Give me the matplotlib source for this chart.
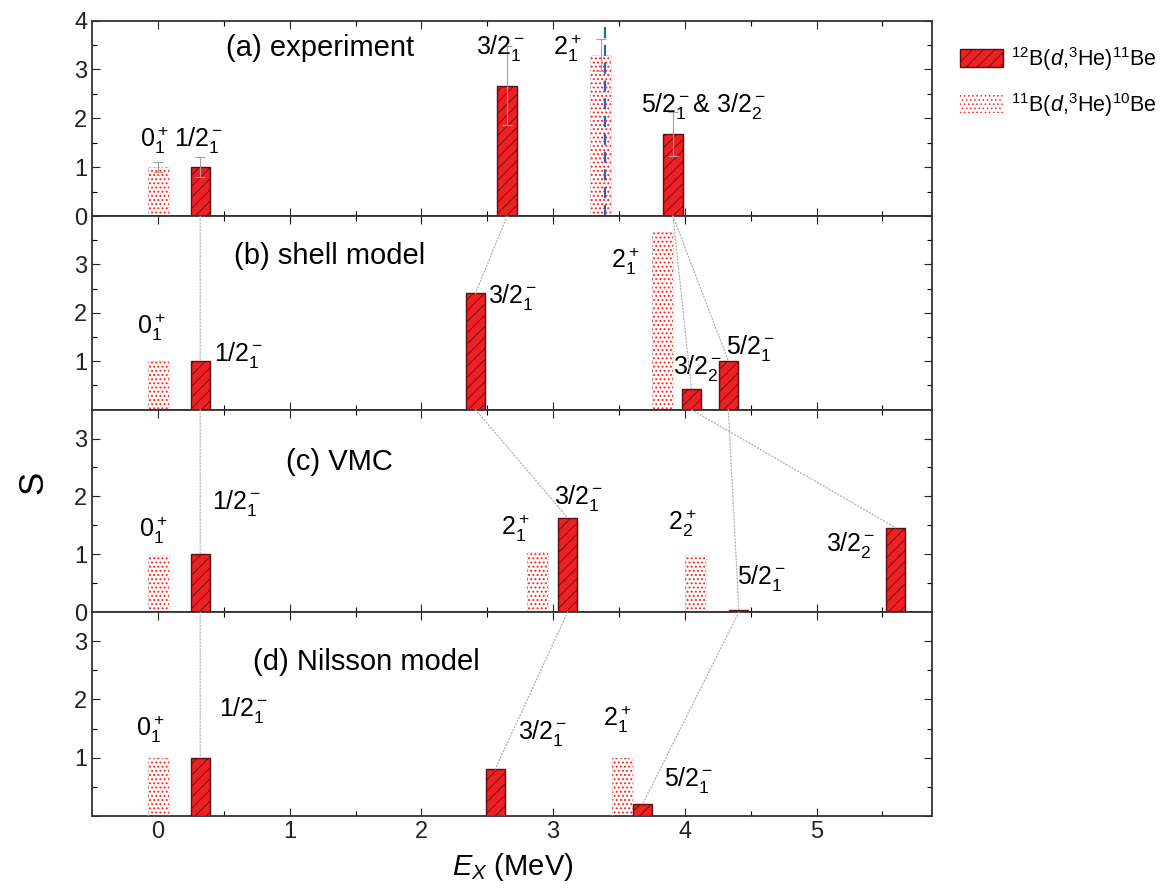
import matplotlib
matplotlib.use("Agg")
import matplotlib.pyplot as plt
from matplotlib.patches import Patch, ConnectionPatch

plt.rcParams['font.family'] = ['Liberation Sans', 'DejaVu Sans']
plt.rcParams['mathtext.fontset'] = 'custom'
plt.rcParams['mathtext.rm'] = 'Liberation Sans'
plt.rcParams['mathtext.it'] = 'Liberation Sans:italic'
plt.rcParams['mathtext.bf'] = 'Liberation Sans:bold'
plt.rcParams['hatch.linewidth'] = 0.6

# (a) experiment
exp_11be_E = [0.32, 2.65, 3.91]
exp_11be_S = [1.00, 2.67, 1.67]
exp_11be_err = [0.21, 0.80, 0.45]
exp_10be_E = [0.0, 3.36]
exp_10be_S = [1.00, 3.30]
exp_10be_err = [0.10, 0.33]
threshold_E = 3.39

# (b) shell model
sm_11be_E = [0.32, 2.41, 4.05, 4.33]
sm_11be_S = [1.00, 2.40, 0.42, 1.01]
sm_10be_E = [0.0, 3.83]
sm_10be_S = [1.00, 3.67]

# (c) VMC
vmc_11be_E = [0.32, 3.11, 4.41, 5.60]
vmc_11be_S = [1.00, 1.63, 0.04, 1.46]
vmc_10be_E = [0.0, 2.88, 4.08]
vmc_10be_S = [0.99, 1.04, 0.99]

# (d) Nilsson model
nil_11be_E = [0.32, 2.56, 3.68]
nil_11be_S = [1.00, 0.80, 0.20]
nil_10be_E = [0.0, 3.53]
nil_10be_S = [1.00, 1.00]

# which 11Be states are connected between neighbouring panels
links_ab = [(0, 0), (1, 1), (2, 2), (2, 3)]
links_bc = [(0, 0), (1, 1), (2, 3), (3, 2)]
links_cd = [(0, 0), (1, 1), (2, 2)]

panels = [
    ("(a) experiment", exp_11be_E, exp_11be_S, exp_10be_E, exp_10be_S, 4.0),
    ("(b) shell model", sm_11be_E, sm_11be_S, sm_10be_E, sm_10be_S, 4.0),
    ("(c) VMC", vmc_11be_E, vmc_11be_S, vmc_10be_E, vmc_10be_S, 3.5),
    ("(d) Nilsson model", nil_11be_E, nil_11be_S, nil_10be_E, nil_10be_S, 3.5),
]

# level labels: (text, E, S) per panel
level_labels = [
    [(r'$0^+_1$', -0.03, 1.55), (r'$1/2^-_1$', 0.31, 1.55), (r'$3/2^-_1$', 2.60, 3.44),
     (r'$2^+_1$', 3.11, 3.44), (r'$5/2^-_1$& $3/2^-_2$', 4.14, 2.25)],
    [(r'$0^+_1$', -0.05, 1.70), (r'$1/2^-_1$', 0.61, 1.12), (r'$3/2^-_1$', 2.69, 2.33),
     (r'$2^+_1$', 3.55, 3.07), (r'$3/2^-_2$', 4.10, 0.87), (r'$5/2^-_1$', 4.50, 1.28)],
    [(r'$0^+_1$', -0.04, 1.42), (r'$1/2^-_1$', 0.60, 1.89), (r'$2^+_1$', 2.71, 1.45),
     (r'$3/2^-_1$', 3.19, 1.98), (r'$2^+_2$', 3.98, 1.54), (r'$5/2^-_1$', 4.58, 0.59),
     (r'$3/2^-_2$', 5.26, 1.16)],
    [(r'$0^+_1$', -0.06, 1.49), (r'$1/2^-_1$', 0.65, 1.82), (r'$3/2^-_1$', 2.92, 1.43),
     (r'$2^+_1$', 3.49, 1.65), (r'$5/2^-_1$', 4.03, 0.62)],
]
title_pos = [(1.23, 3.44), (1.30, 3.17), (1.38, 2.59), (1.58, 2.64)]

red = '#ee2024'
dark = '#5c0f0f'
dotred = '#ff2020'

fig = plt.figure(figsize=(11.67, 8.93), dpi=100)
gs = fig.add_gridspec(4, 1, left=0.079, right=0.799, top=0.977, bottom=0.0865,
                      hspace=0, height_ratios=[195, 193, 202, 203])
axes = [fig.add_subplot(gs[i]) for i in range(4)]

for i, (ax, (title, e11, s11, e10, s10, ymax)) in enumerate(zip(axes, panels)):
    # 10Be: dotted bars
    with plt.rc_context({'hatch.linewidth': 0.9}):
        ax.bar(e10, s10, width=0.16, color='white', edgecolor=dotred, hatch='....',
               linewidth=0, zorder=2)
    ax.bar(e10, s10, width=0.16, fill=False, edgecolor='#c8c8c8', linestyle=':',
           linewidth=0.8, zorder=3)
    # 11Be: red hatched bars
    ax.bar(e11, s11, width=0.145, color=red, edgecolor=dark, hatch='///',
           linewidth=1.0, zorder=3)
    ax.set_xlim(-0.5, 5.88)
    ax.set_ylim(0, ymax)
    ax.text(title_pos[i][0], title_pos[i][1], title, fontsize=21, ha='center', va='center')
    for txt, x, y in level_labels[i]:
        ax.text(x, y, txt, fontsize=18, ha='center', va='center', zorder=5)
    ax.tick_params(direction='in', top=True, right=True, length=6, width=0.8,
                   labelsize=17, colors='#222222')
    ax.tick_params(which='minor', direction='in', top=True, right=True, length=3.5, width=0.8)
    ax.set_xticks(range(6))
    ax.set_xticks([0.5, 1.5, 2.5, 3.5, 4.5, 5.5], minor=True)
    if ymax == 4.0:
        ax.set_yticks([0, 1, 2, 3, 4])
        ax.set_yticks([0.5, 1.5, 2.5, 3.5], minor=True)
    else:
        ax.set_yticks([0, 1, 2, 3])
        ax.set_yticks([0.5, 1.5, 2.5], minor=True)
    if i == 1 or i == 3:
        ax.set_yticklabels(['', '1', '2', '3', ''][:len(ax.get_yticks())])
    if i < 3:
        ax.tick_params(labelbottom=False)
    for sp in ax.spines.values():
        sp.set_color('#333333')
        sp.set_linewidth(1.3)

axes[0].errorbar(exp_11be_E, exp_11be_S, yerr=exp_11be_err, fmt='none', ecolor='#a0a0a0',
                 elinewidth=0.8, capsize=3.5, capthick=0.8, zorder=4)
axes[0].errorbar(exp_10be_E, exp_10be_S, yerr=exp_10be_err, fmt='none', ecolor='#a0a0a0',
                 elinewidth=0.8, capsize=3.5, capthick=0.8, zorder=4)
axes[0].axvline(threshold_E, color='#2f5fbf', linestyle=(0, (5, 3)), linewidth=1.6, zorder=4)

# dotted connection lines between panels
for k, links in enumerate([links_ab, links_bc, links_cd]):
    up, lo = panels[k], panels[k + 1]
    for a, b in links:
        con = ConnectionPatch(xyA=(up[1][a], 0), coordsA=axes[k].transData,
                              xyB=(lo[1][b], lo[2][b]), coordsB=axes[k + 1].transData,
                              color='#b0b0b0', linestyle=':', linewidth=0.9, zorder=1)
        fig.add_artist(con)

axes[3].set_xlabel(r'$E_X$ (MeV)', fontsize=21, labelpad=6)
fig.text(0.028, 0.46, 'S', fontsize=25, rotation=90, ha='center', va='center')

with plt.rc_context({'hatch.linewidth': 0.9}):
    dot_handle = Patch(facecolor='white', edgecolor=dotred, hatch='....', linewidth=0)
handles = [Patch(facecolor=red, edgecolor=dark, hatch='///', linewidth=1.0), dot_handle]
fig.legend(handles, [r'$^{12}$B($d$,$^{3}$He)$^{11}$Be', r'$^{11}$B($d$,$^{3}$He)$^{10}$Be'],
           loc='upper left', bbox_to_anchor=(0.823, 0.95), frameon=False, fontsize=15.5,
           handlelength=2.0, handleheight=0.9, labelspacing=0.85, handletextpad=0.35,
           borderpad=0, borderaxespad=0)

fig.savefig('out.png', dpi=100)
